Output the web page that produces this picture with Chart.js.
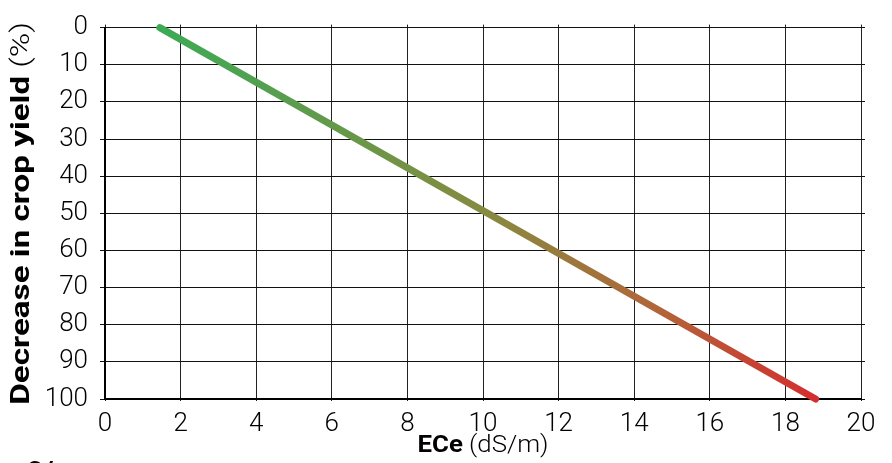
<!DOCTYPE html>
<html>
<head>
<meta charset="utf-8">
<script src="https://cdn.jsdelivr.net/npm/chart.js@4.4.1/dist/chart.umd.min.js"></script>
<style>
  html, body { margin: 0; padding: 0; background: #fff; }
  #wrap { width: 892px; height: 463px; position: relative; }
</style>
</head>
<body>
<div id="wrap"><canvas id="yieldChart"></canvas></div>
<script>
// Yield decrease vs soil salinity (ECe)
const eceValues = [1.45, 18.8];
const yieldDecrease = [0, 100];
const xTitleBold = 'ECe';
const xTitleUnit = ' (dS/m)';
const yTitleBold = 'Decrease in crop yield';
const yTitleUnit = ' (%)';

const tickFont = { family: 'Roboto', size: 26, weight: '300' };
const gridBlack = '#111';

function lineGradient(context) {
    const chart = context.chart;
    const { ctx, chartArea, scales } = chart;
    if (!chartArea) return '#3eaa56';
    const x0 = scales.x.getPixelForValue(eceValues[0]);
    const x1 = scales.x.getPixelForValue(eceValues[eceValues.length - 1]);
    const g = ctx.createLinearGradient(x0, 0, x1, 0);
    g.addColorStop(0, '#3caa55');
    g.addColorStop(0.5, '#878a40');
    g.addColorStop(0.75, '#b0663a');
    g.addColorStop(1, '#d42e2e');
    return g;
}

// draws bold + regular text, stretched along the text to a set length
function drawMixed(ctx, boldText, regText, size, length) {
    ctx.font = `bold ${size}px Roboto`;
    const wb = ctx.measureText(boldText).width;
    ctx.font = `300 ${size}px Roboto`;
    const wr = ctx.measureText(regText).width;
    ctx.scale(length / (wb + wr), 1);
    const start = -(wb + wr) / 2;
    ctx.font = `bold ${size}px Roboto`;
    ctx.fillText(boldText, start, 0);
    ctx.font = `300 ${size}px Roboto`;
    ctx.fillText(regText, start + wb, 0);
}

const titlePlugin = {
    id: 'mixedTitles',
    afterDraw(chart) {
        const { ctx, chartArea } = chart;
        ctx.save();
        ctx.fillStyle = '#000';
        ctx.textBaseline = 'alphabetic';
        ctx.textAlign = 'left';

        // x title
        ctx.save();
        ctx.translate((chartArea.left + chartArea.right) / 2, 452);
        drawMixed(ctx, xTitleBold, xTitleUnit, 24, 131);
        ctx.restore();

        // y title
        ctx.save();
        ctx.translate(29, (chartArea.top + chartArea.bottom) / 2);
        ctx.rotate(-Math.PI / 2);
        drawMixed(ctx, yTitleBold, yTitleUnit, 25, 383);
        ctx.restore();

        // cut-off caption at the bottom edge
        ctx.font = 'bold 28px Roboto';
        ctx.fillText('2/', 27, 481);
        ctx.restore();
    }
};

new Chart(document.getElementById('yieldChart'), {
    type: 'scatter',
    data: {
        datasets: [{
            data: eceValues.map((x, i) => ({ x: x, y: yieldDecrease[i] })),
            showLine: true,
            borderColor: lineGradient,
            borderWidth: 7,
            borderCapStyle: 'round',
            pointRadius: 0,
            pointHoverRadius: 0,
            clip: false
        }]
    },
    options: {
        responsive: true,
        maintainAspectRatio: false,
        animation: false,
        events: [],
        layout: { padding: { top: 15, right: 27, left: 0, bottom: 0 } },
        plugins: { legend: { display: false }, tooltip: { enabled: false } },
        scales: {
            x: {
                type: 'linear',
                position: 'bottom',
                min: 0, max: 20,
                ticks: { stepSize: 2, font: tickFont, color: '#000', padding: 8 },
                grid: { color: '#222', lineWidth: 1, tickLength: 2, tickColor: '#222' },
                border: { color: '#000', width: 2 },
                afterFit(scale) { scale.height = 64; }
            },
            x2: {
                type: 'linear',
                position: 'top',
                min: 0, max: 20,
                ticks: { stepSize: 2, display: false },
                grid: { drawOnChartArea: false, tickLength: 3, color: '#222' },
                border: { display: false },
                afterFit(scale) { scale.height = 3; }
            },
            y: {
                type: 'linear',
                position: 'left',
                min: 0, max: 100,
                reverse: true,
                ticks: { stepSize: 10, font: tickFont, color: '#000', padding: 12 },
                grid: { color: gridBlack, lineWidth: 1, tickLength: 5, tickColor: gridBlack },
                border: { color: '#000', width: 2 },
                afterFit(scale) { scale.width = 105; }
            },
            y2: {
                type: 'linear',
                position: 'right',
                min: 0, max: 100,
                reverse: true,
                ticks: { stepSize: 10, display: false },
                grid: { drawOnChartArea: false, tickLength: 4, color: gridBlack },
                border: { display: false },
                afterFit(scale) { scale.width = 4; }
            }
        }
    },
    plugins: [titlePlugin]
});
</script>
</body>
</html>
